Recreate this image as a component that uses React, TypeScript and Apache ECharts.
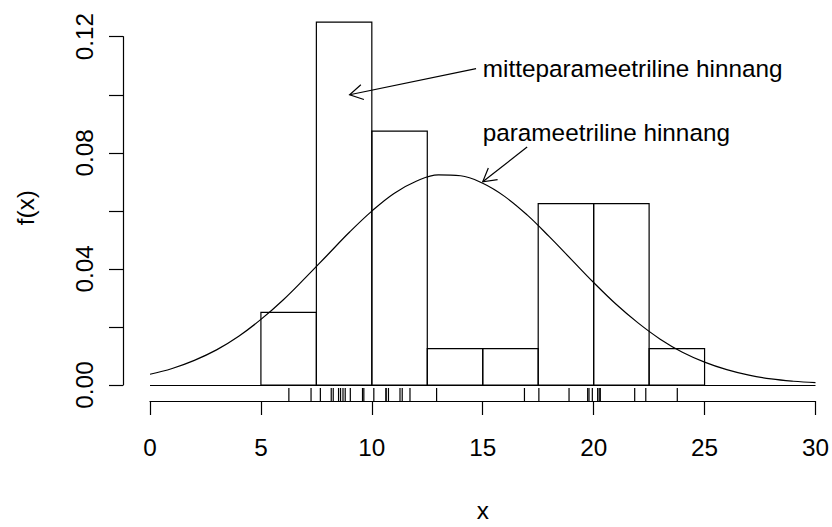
import React, { useEffect, useRef } from 'react';
import * as echarts from 'echarts';

// Histogram (density scale), bins of width 2.5
const binStarts = [5, 7.5, 10, 12.5, 15, 17.5, 20, 22.5];
const binEnds = [7.5, 10, 12.5, 15, 17.5, 20, 22.5, 25];
const binDensity = [0.025, 0.125, 0.0875, 0.0125, 0.0125, 0.0625, 0.0625, 0.0125];

// Rug of observations
const rugValues = [
  6.26, 7.26, 7.68, 8.17, 8.26, 8.5, 8.59, 8.7, 8.8, 9.03, 9.58, 9.64,
  10.09, 10.64, 10.64, 10.75, 11.27, 11.37, 11.72, 12.92, 16.88, 17.53,
  18.89, 19.73, 19.79, 19.94, 20.18, 20.25, 20.3, 21.85, 22.35, 23.77,
];

// Parametric (normal) density curve
const curveX = [0, 1, 2, 3, 4, 5, 6, 7, 8, 9, 10, 11, 12, 13, 14, 15, 16, 17, 18, 19, 20, 21, 22, 23, 24, 25, 26, 27, 28, 29, 30];
const curveY = [
  0.0037, 0.0057, 0.0085, 0.0121, 0.0168, 0.0226, 0.0293, 0.0369, 0.0448, 0.0527,
  0.0599, 0.066, 0.0702, 0.0724, 0.0721, 0.0695, 0.0649, 0.0586, 0.0511, 0.0432,
  0.0353, 0.0279, 0.0214, 0.0158, 0.0113, 0.0079, 0.0053, 0.0034, 0.0021, 0.0013, 0.0008,
];

const yTickLabels = ['0.00', '0.04', '0.08', '0.12'];

// Annotations: text anchors and arrows (data coordinates)
const noteTexts = ['mitteparameetriline hinnang', 'parameetriline hinnang'];
const noteX = [15, 15];
const noteY = [0.109, 0.087];
const arrowFromX = [14.7, 17];
const arrowFromY = [0.109, 0.082];
const arrowToX = [9, 15];
const arrowToY = [0.1, 0.07];

const FONT = "'Liberation Sans', Arial, sans-serif";
const FS = 24.3;
const INK = '#000';
const LW = 1.2;

export default function App() {
  const ref = useRef<HTMLDivElement>(null);

  useEffect(() => {
    if (!ref.current) return;
    const chart = echarts.init(ref.current, undefined, { renderer: 'svg' });

    const histData = binStarts.map((s, i) => [s, binEnds[i], binDensity[i]]);
    const rugData = rugValues.map((v) => [v, 0]);
    const curveData = curveX.map((x, i) => [x, curveY[i]]);
    const arrowData = arrowFromX.map((x, i) => [x, arrowFromY[i], arrowToX[i], arrowToY[i]]);
    const noteData = noteX.map((x, i) => [x, noteY[i]]);

    const option: any = {
      animation: false,
      backgroundColor: '#fff',
      grid: { left: 150, right: 14, top: 36.7, bottom: 133.7, containLabel: false },
      xAxis: {
        type: 'value',
        min: 0,
        max: 30,
        interval: 5,
        position: 'bottom',
        offset: 16,
        axisLine: { show: true, onZero: false, lineStyle: { color: INK, width: LW } },
        axisTick: { show: true, length: 14, lineStyle: { color: INK, width: LW } },
        splitLine: { show: false },
        axisLabel: {
          color: INK,
          fontSize: FS,
          fontFamily: FONT,
          margin: 46,
          verticalAlign: 'middle',
          showMinLabel: true,
          showMaxLabel: true,
        },
        name: 'x',
        nameLocation: 'middle',
        nameGap: 109,
        nameTextStyle: { color: INK, fontSize: FS, fontFamily: FONT, verticalAlign: 'middle' },
      },
      yAxis: {
        type: 'value',
        min: 0,
        max: 0.12,
        interval: 0.02,
        position: 'left',
        offset: 27,
        axisLine: { show: true, onZero: false, lineStyle: { color: INK, width: LW } },
        axisTick: { show: true, length: 14, lineStyle: { color: INK, width: LW } },
        splitLine: { show: false },
        axisLabel: {
          color: INK,
          fontSize: FS,
          fontFamily: FONT,
          rotate: 90,
          margin: 39,
          align: 'center',
          verticalAlign: 'middle',
          formatter: (v: number) => {
            const s = v.toFixed(2);
            return yTickLabels.includes(s) ? s : '';
          },
        },
      },
      graphic: [
        {
          type: 'text',
          x: 25,
          y: 207.6,
          rotation: Math.PI / 2,
          style: { text: 'f(x)', fill: INK, fontSize: FS, fontFamily: FONT, align: 'center', verticalAlign: 'middle' },
        },
      ],
      series: [
        {
          type: 'custom',
          name: 'histogram',
          clip: false,
          encode: { x: [0, 1], y: 2 },
          data: histData,
          renderItem: (params: any, api: any) => {
            const p0 = api.coord([api.value(0), api.value(2)]);
            const p1 = api.coord([api.value(1), 0]);
            return {
              type: 'rect',
              shape: { x: p0[0], y: p0[1], width: p1[0] - p0[0], height: p1[1] - p0[1] },
              style: { fill: 'none', stroke: INK, lineWidth: LW },
            };
          },
        },
        {
          type: 'line',
          name: 'parameetriline',
          data: curveData,
          smooth: 0.4,
          showSymbol: false,
          symbol: 'none',
          lineStyle: { color: INK, width: LW },
          markLine: {
            silent: true,
            symbol: 'none',
            label: { show: false },
            lineStyle: { color: INK, width: LW, type: 'solid' },
            data: [{ yAxis: 0 }],
          },
          z: 3,
        },
        {
          type: 'custom',
          name: 'rug',
          clip: false,
          data: rugData,
          renderItem: (params: any, api: any) => {
            const p = api.coord([api.value(0), 0]);
            return {
              type: 'line',
              shape: { x1: p[0], y1: p[1] + 16, x2: p[0], y2: p[1] + 3 },
              style: { stroke: INK, lineWidth: LW },
            };
          },
        },
        {
          type: 'custom',
          name: 'arrows',
          clip: false,
          data: arrowData,
          renderItem: (params: any, api: any) => {
            const a = api.coord([api.value(0), api.value(1)]);
            const b = api.coord([api.value(2), api.value(3)]);
            const ang = Math.atan2(b[1] - a[1], b[0] - a[0]);
            const L = 15;
            const th = Math.PI / 6;
            const h1 = [b[0] - L * Math.cos(ang - th), b[1] - L * Math.sin(ang - th)];
            const h2 = [b[0] - L * Math.cos(ang + th), b[1] - L * Math.sin(ang + th)];
            return {
              type: 'group',
              children: [
                { type: 'line', shape: { x1: a[0], y1: a[1], x2: b[0], y2: b[1] }, style: { stroke: INK, lineWidth: LW } },
                { type: 'polyline', shape: { points: [h1, b, h2] }, style: { stroke: INK, fill: 'none', lineWidth: LW } },
              ],
            };
          },
        },
        {
          type: 'custom',
          name: 'notes',
          clip: false,
          data: noteData,
          renderItem: (params: any, api: any) => {
            const p = api.coord([api.value(0), api.value(1)]);
            return {
              type: 'text',
              x: p[0],
              y: p[1],
              style: {
                text: noteTexts[params.dataIndex],
                fill: INK,
                fontSize: FS,
                fontFamily: FONT,
                align: 'left',
                verticalAlign: 'middle',
              },
            };
          },
        },
      ],
    };

    chart.setOption(option);
    return () => chart.dispose();
  }, []);

  return (
    <div
      ref={ref}
      style={{ position: 'fixed', left: 0, top: 0, width: 832, height: 527, background: '#fff' }}
    />
  );
}
